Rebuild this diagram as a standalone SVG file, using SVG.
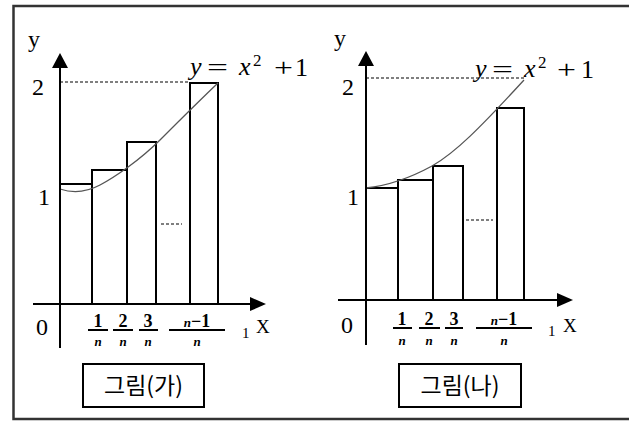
<svg xmlns="http://www.w3.org/2000/svg" width="629" height="421" viewBox="0 0 629 421">
<style>
.ln{stroke:#000;stroke-width:2;fill:none}
.rc{stroke:#000;stroke-width:2;fill:#fff}
.dot{stroke:#000;stroke-width:1.2;stroke-dasharray:3 2;fill:none}
.crv{stroke:#555;stroke-width:1.3;fill:none}
.t{font-family:"Liberation Serif","DejaVu Serif",serif;fill:#000}
.lab{font-size:24px}
.num{font-size:18px;font-weight:bold}
.den{font-size:13px;font-style:italic;font-weight:bold}
.eq{font-size:26px}
.it{font-style:italic}
.cap{font-family:"Noto Sans CJK KR",sans-serif;font-size:23px;fill:#000}
</style>
<rect width="629" height="421" fill="#fff"/>
<rect x="13.5" y="6" width="640" height="413" fill="none" stroke="#333" stroke-width="2.5"/>

<g id="graph-left">
  <line class="dot" x1="60" y1="82" x2="190" y2="82"/>
  <rect class="rc" x="60" y="184" width="32" height="120"/>
  <rect class="rc" x="92" y="170" width="35" height="134"/>
  <rect class="rc" x="127" y="142" width="29" height="162"/>
  <rect class="rc" x="190" y="83" width="28" height="221"/>
  <line class="dot" x1="161" y1="224" x2="182" y2="224"/>
  <path class="crv" d="M60,189 C72,193 85,193 100,185 C115,177 140,160 160,140 C180,120 200,100 218,83"/>
  <line class="ln" x1="60" y1="66" x2="60" y2="348"/>
  <polygon points="60,53 52,68 68,68" fill="#000"/>
  <line class="ln" x1="33" y1="304" x2="252" y2="304"/>
  <polygon points="266,304 250,297 250,311" fill="#000"/>
  <text class="t lab" x="28" y="47">y</text>
  <text class="t lab" x="32" y="95">2</text>
  <text class="t lab" x="38" y="205">1</text>
  <text class="t lab" x="36" y="335">0</text>
  <g class="t eq">
    <text class="it" x="190" y="75">y</text>
    <text x="207" y="76" textLength="21" lengthAdjust="spacingAndGlyphs">=</text>
    <text class="it" x="239" y="75">x</text>
    <text x="253" y="66" font-size="17">2</text>
    <text x="274" y="76" textLength="19" lengthAdjust="spacingAndGlyphs">+</text>
    <text x="295" y="76">1</text>
  </g>
  <g class="t">
    <text class="num" x="98" y="327" text-anchor="middle">1</text>
    <line class="ln" x1="88" y1="330" x2="108" y2="330" stroke-width="1.5"/>
    <text class="den" x="98" y="346" text-anchor="middle">n</text>
    <text class="num" x="123" y="327" text-anchor="middle">2</text>
    <line class="ln" x1="113" y1="330" x2="133" y2="330" stroke-width="1.5"/>
    <text class="den" x="123" y="346" text-anchor="middle">n</text>
    <text class="num" x="148" y="327" text-anchor="middle">3</text>
    <line class="ln" x1="139" y1="330" x2="158" y2="330" stroke-width="1.5"/>
    <text class="den" x="148" y="346" text-anchor="middle">n</text>
    <text class="num" x="197" y="327" text-anchor="middle"><tspan class="den">n</tspan>−1</text>
    <line class="ln" x1="169" y1="330" x2="225" y2="330" stroke-width="1.5"/>
    <text class="den" x="197" y="346" text-anchor="middle">n</text>
    <text x="242" y="338" font-size="15">1</text>
    <text x="256" y="333" font-size="19">X</text>
  </g>
</g>

<g id="caption-left">
  <rect class="ln" x="83" y="364" width="121" height="43"/>
  <text class="cap" x="143.5" y="394" text-anchor="middle">그림(가)</text>
</g>

<g id="graph-right">
  <line class="dot" x1="366" y1="78" x2="525" y2="78"/>
  <rect class="rc" x="366" y="188" width="32" height="112"/>
  <rect class="rc" x="398" y="180" width="35" height="120"/>
  <rect class="rc" x="433" y="166" width="30" height="134"/>
  <rect class="rc" x="497" y="108" width="27" height="192"/>
  <line class="dot" x1="466" y1="220" x2="493" y2="220"/>
  <path class="crv" d="M366,188 C385,186 410,178 432,166 C455,153 480,128 524,80"/>
  <line class="ln" x1="366" y1="64" x2="366" y2="345"/>
  <polygon points="366,51 358,66 374,66" fill="#000"/>
  <line class="ln" x1="338" y1="300" x2="559" y2="300"/>
  <polygon points="573,300 557,293 557,307" fill="#000"/>
  <text class="t lab" x="334" y="46">y</text>
  <text class="t lab" x="342" y="95">2</text>
  <text class="t lab" x="347" y="205">1</text>
  <text class="t lab" x="341" y="333">0</text>
  <g class="t eq">
    <text class="it" x="475" y="77">y</text>
    <text x="492" y="78" textLength="21" lengthAdjust="spacingAndGlyphs">=</text>
    <text class="it" x="524" y="77">x</text>
    <text x="538" y="68" font-size="17">2</text>
    <text x="557" y="78" textLength="19" lengthAdjust="spacingAndGlyphs">+</text>
    <text x="581" y="78">1</text>
  </g>
  <g class="t">
    <text class="num" x="402" y="325" text-anchor="middle">1</text>
    <line class="ln" x1="393" y1="328" x2="412" y2="328" stroke-width="1.5"/>
    <text class="den" x="402" y="345" text-anchor="middle">n</text>
    <text class="num" x="429" y="325" text-anchor="middle">2</text>
    <line class="ln" x1="419" y1="328" x2="440" y2="328" stroke-width="1.5"/>
    <text class="den" x="429" y="345" text-anchor="middle">n</text>
    <text class="num" x="454" y="325" text-anchor="middle">3</text>
    <line class="ln" x1="445" y1="328" x2="463" y2="328" stroke-width="1.5"/>
    <text class="den" x="454" y="345" text-anchor="middle">n</text>
    <text class="num" x="504" y="325" text-anchor="middle"><tspan class="den">n</tspan>−1</text>
    <line class="ln" x1="476" y1="328" x2="532" y2="328" stroke-width="1.5"/>
    <text class="den" x="504" y="345" text-anchor="middle">n</text>
    <text x="548" y="336" font-size="15">1</text>
    <text x="563" y="332" font-size="19">X</text>
  </g>
</g>

<g id="caption-right">
  <rect class="ln" x="399" y="364" width="122" height="43"/>
  <text class="cap" x="460" y="394" text-anchor="middle">그림(나)</text>
</g>
</svg>
